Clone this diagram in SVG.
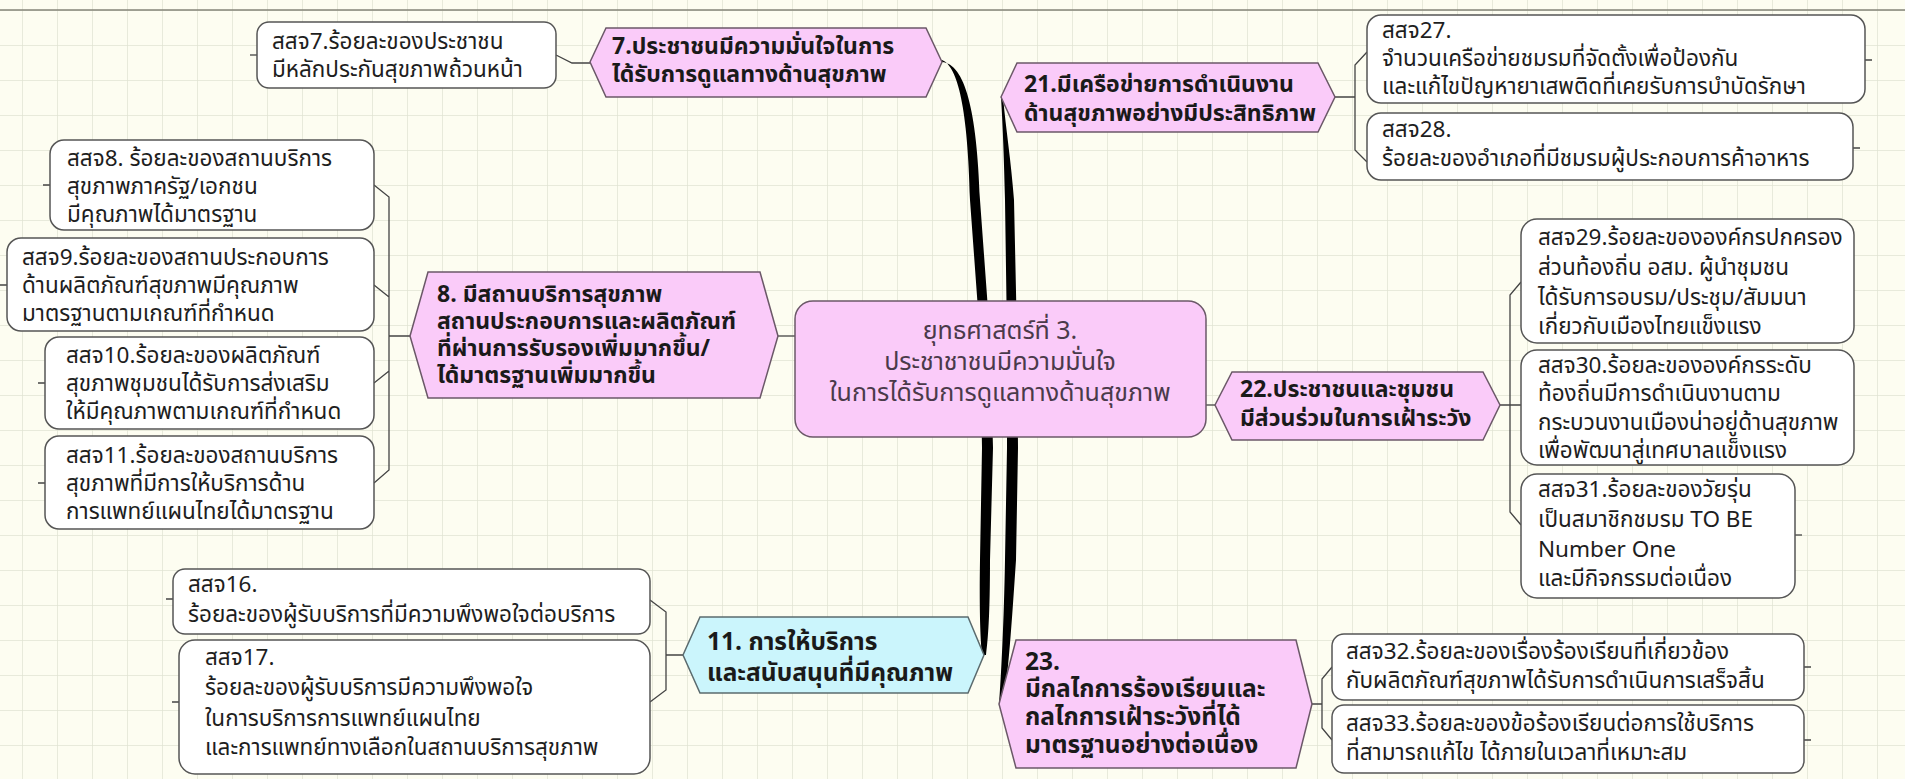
<svg xmlns="http://www.w3.org/2000/svg" width="1905" height="779" viewBox="0 0 1905 779">
<defs>
<pattern id="grid" x="22" y="10" width="35" height="35" patternUnits="userSpaceOnUse">
<path d="M0 0 H35 M0 0 V35" fill="none" stroke="#E1E4D3" stroke-width="1.5"/>
</pattern>
<style>
.box{fill:#FFFFFF;stroke:#555;stroke-width:1.5}
.pink{fill:#FACBF9;stroke:#6B5868;stroke-width:1.5}
.cyan{fill:#CBF5FC;stroke:#5B6B6E;stroke-width:1.5}
.ln{fill:none;stroke:#444;stroke-width:1.3}
.t{font-family:"Noto Sans Thai","Noto Sans","DejaVu Sans",sans-serif;font-size:22.5px;fill:#1E1E1E}
.c{font-family:"Noto Sans Thai","Noto Sans","DejaVu Sans",sans-serif;font-size:22.5px;fill:#1E1E1E}
.b{font-family:"Noto Sans Thai","Noto Sans","DejaVu Sans",sans-serif;font-size:23px;font-weight:bold;fill:#1A1A1A}
.bl{font-family:"Noto Sans Thai","Noto Sans","DejaVu Sans",sans-serif;font-size:24.5px;font-weight:bold;fill:#1A1A1A}
.ctr{font-family:"Noto Sans Thai","Noto Sans","DejaVu Sans",sans-serif;font-size:25px;fill:#4A3A4A;text-anchor:middle}
</style>
</defs>
<rect width="1905" height="779" fill="#FDFDF1"/>
<rect width="1905" height="779" fill="url(#grid)"/>
<line x1="0" y1="10" x2="1905" y2="10" stroke="#858579" stroke-width="1.5"/>

<g id="connectors">
<path d="M942 60 C958 66 968 110 970 200 L980 337 L982 448 L980 560 C979 620 981 645 982 655 L986 655 C988 640 990 615 990 560 L993 448 L990 337 L980 200 C977 110 965 64 942 62 Z" fill="#000"/>
<path d="M1001 97 C1003 130 1004 160 1005 200 L1007 337 L1007 448 L1005 560 C1004 620 1001 680 999 704 L1003 704 C1008 680 1012 620 1016 560 L1018 448 L1017 337 L1014 200 C1011 160 1006 130 1003 97 Z" fill="#000"/>
<path class="ln" d="M556 55 L572 63 L590 63"/>
<path class="ln" d="M250 55 H257"/>
<path class="ln" d="M778 336 H795"/>
<path class="ln" d="M374 185 L389 197 V470 L374 483 M374 285 L389 297 M374 383 L389 371 M389 336 H410"/>
<path class="ln" d="M43 185 H50 M0 285 H7 M38 383 H45 M38 483 H45"/>
<path class="ln" d="M1335 97 H1355 M1367 52 L1355 65 V150 L1367 162"/>
<path class="ln" d="M1865 60 H1872 M1853 148 H1860"/>
<path class="ln" d="M1206 405 H1215"/>
<path class="ln" d="M1500 405 H1521 M1521 282 L1510 295 V512 L1521 525"/>
<path class="ln" d="M1795 535 H1802"/>
<path class="ln" d="M683 655 H666 M650 600 L666 612 V690 L650 702"/>
<path class="ln" d="M166 599 H173 M172 702 H179"/>
<path class="ln" d="M1312 704 H1322 M1332 667 L1322 679 V728 L1332 740"/>
<path class="ln" d="M1804 667 H1811 M1804 740 H1811"/>
</g>

<g id="n-sj7">
<rect class="box" x="257" y="22" width="299" height="66" rx="12"/>
<text class="t" x="272" y="49">สสจ7.ร้อยละของประชาชน</text>
<text class="t" x="272" y="77">มีหลักประกันสุขภาพถ้วนหน้า</text>
</g>
<g id="n-7">
<polygon class="pink" points="590,62 606,28 926,28 942,62 926,97 606,97"/>
<text class="b" x="612" y="54">7.ประชาชนมีความมั่นใจในการ</text>
<text class="b" x="612" y="82">ได้รับการดูแลทางด้านสุขภาพ</text>
</g>
<g id="n-21">
<polygon class="pink" points="1001,97 1017,63 1318,63 1335,97 1318,132 1017,132"/>
<text class="b" x="1024" y="92">21.มีเครือข่ายการดำเนินงาน</text>
<text class="b" x="1024" y="121">ด้านสุขภาพอย่างมีประสิทธิภาพ</text>
</g>
<g id="n-sj27">
<rect class="box" x="1367" y="15" width="498" height="88" rx="14"/>
<text class="c" x="1382" y="38">สสจ27.</text>
<text class="c" x="1382" y="66">จำนวนเครือข่ายชมรมที่จัดตั้งเพื่อป้องกัน</text>
<text class="c" x="1382" y="94">และแก้ไขปัญหายาเสพติดที่เคยรับการบำบัดรักษา</text>
</g>
<g id="n-sj28">
<rect class="box" x="1367" y="113" width="486" height="67" rx="14"/>
<text class="c" x="1382" y="137">สสจ28.</text>
<text class="c" x="1382" y="166">ร้อยละของอำเภอที่มีชมรมผู้ประกอบการค้าอาหาร</text>
</g>
<g id="n-sj8">
<rect class="box" x="50" y="140" width="324" height="90" rx="14"/>
<text class="t" x="67" y="166">สสจ8. ร้อยละของสถานบริการ</text>
<text class="t" x="67" y="194">สุขภาพภาครัฐ/เอกชน</text>
<text class="t" x="67" y="222">มีคุณภาพได้มาตรฐาน</text>
</g>
<g id="n-sj9">
<rect class="box" x="7" y="238" width="367" height="93" rx="14"/>
<text class="t" x="22" y="265">สสจ9.ร้อยละของสถานประกอบการ</text>
<text class="t" x="22" y="293">ด้านผลิตภัณฑ์สุขภาพมีคุณภาพ</text>
<text class="t" x="22" y="321">มาตรฐานตามเกณฑ์ที่กำหนด</text>
</g>
<g id="n-sj10">
<rect class="box" x="45" y="337" width="329" height="92" rx="14"/>
<text class="t" x="66" y="363">สสจ10.ร้อยละของผลิตภัณฑ์</text>
<text class="t" x="66" y="391">สุขภาพชุมชนได้รับการส่งเสริม</text>
<text class="t" x="66" y="419">ให้มีคุณภาพตามเกณฑ์ที่กำหนด</text>
</g>
<g id="n-sj11">
<rect class="box" x="45" y="436" width="329" height="93" rx="14"/>
<text class="t" x="66" y="463">สสจ11.ร้อยละของสถานบริการ</text>
<text class="t" x="66" y="491">สุขภาพที่มีการให้บริการด้าน</text>
<text class="t" x="66" y="519">การแพทย์แผนไทยได้มาตรฐาน</text>
</g>
<g id="n-8">
<polygon class="pink" points="410,336 428,272 760,272 778,336 760,398 428,398"/>
<text class="b" x="437" y="302">8. มีสถานบริการสุขภาพ</text>
<text class="b" x="437" y="329">สถานประกอบการและผลิตภัณฑ์</text>
<text class="b" x="437" y="356">ที่ผ่านการรับรองเพิ่มมากขึ้น/</text>
<text class="b" x="437" y="383">ได้มาตรฐานเพิ่มมากขึ้น</text>
</g>
<g id="n-center">
<rect class="pink" x="795" y="301" width="411" height="136" rx="18"/>
<text class="ctr" x="1000" y="339">ยุทธศาสตร์ที่ 3.</text>
<text class="ctr" x="1000" y="370">ประชาชาชนมีความมั่นใจ</text>
<text class="ctr" x="1000" y="401">ในการได้รับการดูแลทางด้านสุขภาพ</text>
</g>
<g id="n-22">
<polygon class="pink" points="1215,405 1232,372 1483,372 1500,405 1483,440 1232,440"/>
<text class="b" x="1240" y="397">22.ประชาชนและชุมชน</text>
<text class="b" x="1240" y="426">มีส่วนร่วมในการเฝ้าระวัง</text>
</g>
<g id="n-sj29">
<rect class="box" x="1521" y="219" width="333" height="124" rx="16"/>
<text class="t" x="1538" y="245">สสจ29.ร้อยละขององค์กรปกครอง</text>
<text class="t" x="1538" y="275">ส่วนท้องถิ่น อสม.  ผู้นำชุมชน</text>
<text class="t" x="1538" y="305">ได้รับการอบรม/ประชุม/สัมมนา</text>
<text class="t" x="1538" y="334"> เกี่ยวกับเมืองไทยแข็งแรง</text>
</g>
<g id="n-sj30">
<rect class="box" x="1521" y="350" width="333" height="115" rx="16"/>
<text class="t" x="1538" y="373">สสจ30.ร้อยละขององค์กรระดับ</text>
<text class="t" x="1538" y="401">ท้องถิ่นมีการดำเนินงานตาม</text>
<text class="t" x="1538" y="430"> กระบวนงานเมืองน่าอยู่ด้านสุขภาพ</text>
<text class="t" x="1538" y="458"> เพื่อพัฒนาสู่เทศบาลแข็งแรง</text>
</g>
<g id="n-sj31">
<rect class="box" x="1521" y="474" width="274" height="124" rx="16"/>
<text class="t" x="1538" y="497">สสจ31.ร้อยละของวัยรุ่น</text>
<text class="t" x="1538" y="527">เป็นสมาชิกชมรม TO BE</text>
<text class="t" x="1538" y="557">Number One</text>
<text class="t" x="1538" y="586">และมีกิจกรรมต่อเนื่อง</text>
</g>
<g id="n-sj16">
<rect class="box" x="173" y="569" width="477" height="65" rx="12"/>
<text class="c" x="188" y="592">สสจ16.</text>
<text class="c" x="188" y="622">ร้อยละของผู้รับบริการที่มีความพึงพอใจต่อบริการ</text>
</g>
<g id="n-sj17">
<rect class="box" x="179" y="640" width="471" height="134" rx="16"/>
<text class="c" x="205" y="665">สสจ17.</text>
<text class="c" x="205" y="695">ร้อยละของผู้รับบริการมีความพึงพอใจ</text>
<text class="c" x="205" y="726">ในการบริการการแพทย์แผนไทย</text>
<text class="c" x="205" y="755">และการแพทย์ทางเลือกในสถานบริการสุขภาพ</text>
</g>
<g id="n-11">
<polygon class="cyan" points="683,655 700,617 968,617 984,655 968,693 700,693"/>
<text class="bl" x="707" y="650">11. การให้บริการ</text>
<text class="bl" x="707" y="681">และสนับสนุนที่มีคุณภาพ</text>
</g>
<g id="n-23">
<polygon class="pink" points="999,704 1016,640 1296,640 1312,704 1296,768 1016,768"/>
<text class="bl" x="1025" y="670">23.</text>
<text class="bl" x="1025" y="697">มีกลไกการร้องเรียนและ</text>
<text class="bl" x="1025" y="725">กลไกการเฝ้าระวังที่ได้</text>
<text class="bl" x="1025" y="753">มาตรฐานอย่างต่อเนื่อง</text>
</g>
<g id="n-sj32">
<rect class="box" x="1332" y="634" width="472" height="66" rx="12"/>
<text class="c" x="1346" y="659">สสจ32.ร้อยละของเรื่องร้องเรียนที่เกี่ยวข้อง</text>
<text class="c" x="1346" y="688">กับผลิตภัณฑ์สุขภาพได้รับการดำเนินการเสร็จสิ้น</text>
</g>
<g id="n-sj33">
<rect class="box" x="1332" y="705" width="472" height="68" rx="12"/>
<text class="c" x="1346" y="731">สสจ33.ร้อยละของข้อร้องเรียนต่อการใช้บริการ</text>
<text class="c" x="1346" y="760">ที่สามารถแก้ไข ได้ภายในเวลาที่เหมาะสม</text>
</g>
</svg>
